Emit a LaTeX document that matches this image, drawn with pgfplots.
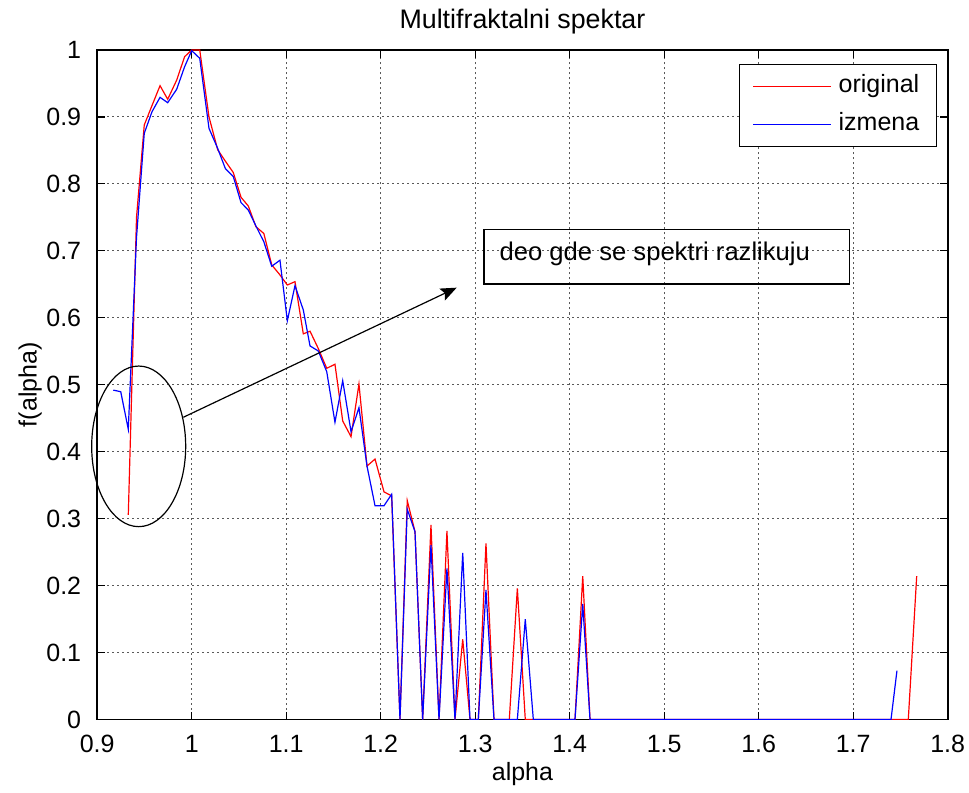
\documentclass[border=0pt]{standalone}
\usepackage{pgfplots}
\pgfplotsset{compat=1.18}
\usepackage{fontspec}
\setmainfont{Liberation Sans}
\usetikzlibrary{arrows.meta}

\pgfplotstableread{
x y
0.9329 0.3055
0.9416 0.75
0.9498 0.888
0.9580 0.917
0.9665 0.9467
0.9746 0.9264
0.9841 0.955
0.9925 0.990
1.0000 1.0
1.0085 1.0
1.0183 0.900
1.0275 0.851
1.0356 0.834
1.0440 0.817
1.0522 0.780
1.0599 0.767
1.0680 0.736
1.0763 0.726
1.0847 0.679
1.0934 0.664
1.1012 0.649
1.1093 0.654
1.1181 0.576
1.1252 0.580
1.1340 0.554
1.1429 0.5246
1.1516 0.5306
1.1598 0.4459
1.1686 0.4224
1.1770 0.5011
1.1855 0.3786
1.1940 0.389
1.2035 0.340
1.2116 0.334
1.2204 0
1.2281 0.327
1.2363 0.2805
1.2444 0
1.2532 0.2905
1.2617 0
1.2701 0.2816
1.2786 0
1.2868 0.1198
1.2945 0
1.3033 0
1.3114 0.263
1.3199 0
1.3280 0
1.3361 0
1.3446 0.196
1.3530 0
1.3615 0
1.3700 0
1.3800 0
1.3900 0
1.4056 0
1.4138 0.2143
1.4215 0
1.5000 0
1.6000 0
1.7000 0
1.7583 0
1.7672 0.2143
}\original

\pgfplotstableread{
x y
0.9170 0.492
0.9249 0.4896
0.9329 0.4335
0.9416 0.72
0.9498 0.8756
0.9580 0.9078
0.9665 0.9293
0.9746 0.9213
0.9841 0.9413
0.9925 0.975
1.0000 0.999
1.0085 0.9876
1.0183 0.883
1.0275 0.853
1.0356 0.823
1.0440 0.811
1.0522 0.772
1.0599 0.761
1.0680 0.737
1.0763 0.7137
1.0847 0.677
1.0934 0.686
1.1012 0.5957
1.1093 0.648
1.1181 0.6117
1.1252 0.558
1.1340 0.5504
1.1429 0.5195
1.1516 0.444
1.1598 0.506
1.1686 0.43
1.1770 0.4657
1.1855 0.3786
1.1940 0.3193
1.2035 0.3193
1.2116 0.3364
1.2204 0
1.2281 0.314
1.2363 0.2805
1.2444 0
1.2532 0.2606
1.2617 0
1.2701 0.2258
1.2786 0
1.2868 0.249
1.2945 0
1.3033 0
1.3114 0.1934
1.3199 0
1.3280 0
1.3361 0
1.3446 0
1.3530 0.1497
1.3615 0
1.3800 0
1.4056 0
1.4138 0.1725
1.4215 0
1.5000 0
1.6000 0
1.7000 0
1.7400 0
1.7463 0.0729
}\izmena

\begin{document}
\begin{tikzpicture}
\begin{axis}[
  scale only axis,
  width=425.25pt, height=334.75pt,
  xmin=0.9, xmax=1.8, ymin=0, ymax=1,
  xtick={0.9,1,...,1.8},
  ytick={0,0.1,...,1},
  xticklabels={0.9,1,1.1,1.2,1.3,1.4,1.5,1.6,1.7,1.8},
  yticklabels={0,0.1,0.2,0.3,0.4,0.5,0.6,0.7,0.8,0.9,1},
  tick align=inside,
  major tick length=4pt,
  axis line style={line width=0.8pt},
  every tick/.style={black, line width=0.6pt},
  grid=major,
  grid style={black!65, line width=0.5pt, dash pattern=on 1pt off 1.5pt},
  tick label style={font=\fontsize{12.5}{15}\selectfont},
  xticklabel style={anchor=base, yshift=-16.5pt},
  yticklabel style={anchor=east, xshift=-4.5pt},
  every axis title shift=0pt,
  title={Multifraktalni spektar},
  title style={font=\fontsize{13.4}{15}\selectfont, at={(0.5,1.0314)}, anchor=base},
  xlabel={alpha},
  xlabel style={font=\fontsize{12.5}{15}\selectfont, at={(0.5,-0.0904)}, anchor=base},
  ylabel={f(alpha)},
  ylabel style={font=\fontsize{12.5}{15}\selectfont, at={(-0.0788,0.5)}, anchor=center, rotate=0},
  legend style={font=\fontsize{12.5}{15}\selectfont, at={(0.987,0.9786)}, anchor=north east,
    draw=black, inner xsep=6.5pt, inner ysep=3.1pt, row sep=2.85pt,
    nodes={inner sep=2pt, text height=9pt, text depth=3pt}},
  legend cell align=left,
  legend image code/.code={\draw[#1, line width=0.5pt] (0pt,0pt) -- (39pt,0pt);},
]
\addplot[red, line width=0.6pt] table[x=x,y=y] {\original};
\addlegendentry{\hspace{1.5pt}original}
\addplot[blue, line width=0.6pt] table[x=x,y=y] {\izmena};
\addlegendentry{\hspace{1.5pt}izmena}
\coordinate (sw) at (rel axis cs:0,0);
\coordinate (ne) at (rel axis cs:1,1);
\coordinate (ellc) at (axis cs:0.9439,0.408);
\coordinate (a1) at (axis cs:0.9911,0.4514);
\coordinate (a2) at (axis cs:1.2804,0.645);
\coordinate (b1) at (axis cs:1.3093,0.6505);
\coordinate (b2) at (axis cs:1.6959,0.7322);
\coordinate (t1) at (axis cs:1.3255,0.6953);
\end{axis}
\draw[line width=0.6pt] (ellc) ellipse [x radius=23.5pt, y radius=40.15pt];
\draw[line width=0.6pt, -{Stealth[length=8pt, width=6.5pt, inset=1.5pt]}] (a1) -- (a2);
\draw[line width=0.6pt] (b1) rectangle (b2);
\node[anchor=west, inner sep=0pt, font=\fontsize{12.8}{15}\selectfont] at (t1) {deo gde se spektri razlikuju};
\pgfresetboundingbox
\path ([xshift=-48.6pt,yshift=-36.25pt]sw) rectangle ([xshift=10.65pt,yshift=25pt]ne);
\end{tikzpicture}
\end{document}
